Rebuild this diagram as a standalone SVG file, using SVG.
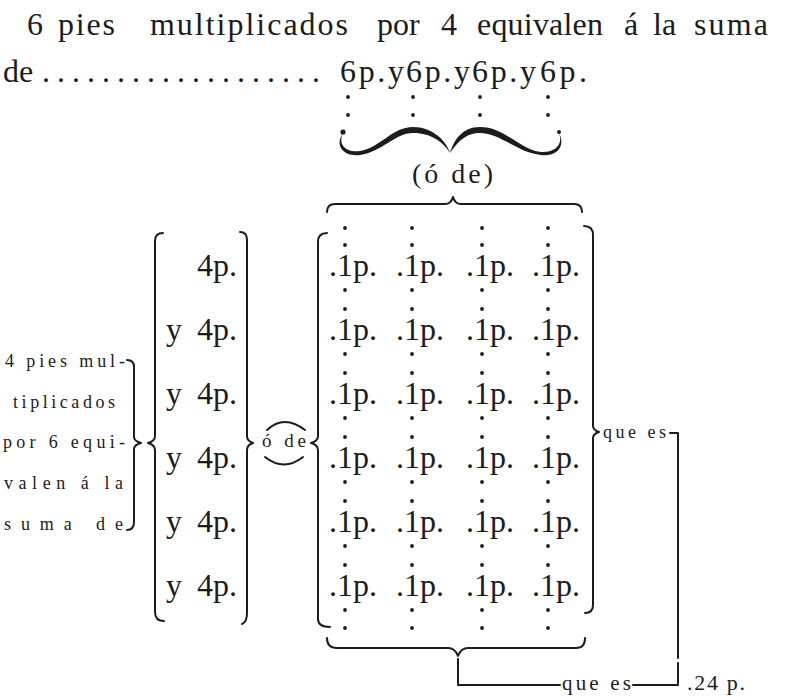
<svg xmlns="http://www.w3.org/2000/svg" width="790" height="699" viewBox="0 0 790 699">
<style>
text{font-family:"Liberation Serif","DejaVu Serif",serif;fill:#1c1c1c}
.big{font-size:32px}
.mid{font-size:28px}
.sm{font-size:18px}
.br{fill:none;stroke:#1c1c1c;stroke-width:2;stroke-linecap:round;stroke-linejoin:round}
.dot{fill:#1c1c1c}
</style>
<defs>
<g id="col">
<circle cx="0" cy="228" r="1.9"/><circle cx="0" cy="245" r="1.9"/>
<circle cx="0" cy="290" r="1.9"/><circle cx="0" cy="309" r="1.9"/>
<circle cx="0" cy="354" r="1.9"/><circle cx="0" cy="373" r="1.9"/>
<circle cx="0" cy="418" r="1.9"/><circle cx="0" cy="437" r="1.9"/>
<circle cx="0" cy="482" r="1.9"/><circle cx="0" cy="501" r="1.9"/>
<circle cx="0" cy="546" r="1.9"/><circle cx="0" cy="565" r="1.9"/>
<circle cx="0" cy="610" r="1.9"/><circle cx="0" cy="628" r="1.9"/>
</g>
</defs>
<rect width="790" height="699" fill="#fff"/>

<g id="title">
<text class="big" y="35"><tspan x="27">6</tspan><tspan x="58" textLength="57">pies</tspan><tspan x="150" textLength="198">multiplicados</tspan><tspan x="377">por</tspan><tspan x="441">4</tspan><tspan x="477" textLength="126">equivalen</tspan><tspan x="624">á</tspan><tspan x="653">la</tspan><tspan x="694" textLength="74">suma</tspan></text>
<text class="big" y="82"><tspan x="3">de</tspan><tspan x="42" letter-spacing="7">...................</tspan></text>
<text class="big" y="82"><tspan x="340" textLength="64">6p.y</tspan><tspan x="406" textLength="64">6p.y</tspan><tspan x="472" textLength="64">6p.y</tspan><tspan x="540" textLength="47">6p.</tspan></text>
</g>

<g id="top-dots" class="dot">
<circle cx="348" cy="97" r="1.9"/><circle cx="348" cy="115" r="1.9"/>
<circle cx="413" cy="97" r="1.9"/><circle cx="413" cy="115" r="1.9"/>
<circle cx="480" cy="97" r="1.9"/><circle cx="480" cy="115" r="1.9"/>
<circle cx="548" cy="97" r="1.9"/><circle cx="548" cy="115" r="1.9"/>
</g>

<g id="curly-brace">
<path fill="#1c1c1c" d="M343,133 C337,146 348,153 360,151 C380,148 392,127 413,127 C432,127 446,140 450,153 C444,143 432,133 413,133 C395,133 382,152 360,155 C344,157 334,146 343,133 Z"/>
<path fill="#1c1c1c" d="M559,133 C564,146 553,153 541,152 C520,150 505,127 480,127 C462,127 454,140 450,153 C457,143 465,133 480,133 C500,133 518,153 541,155 C557,157 566,146 559,133 Z"/>
<circle cx="343" cy="132" r="2.6" fill="#1c1c1c"/>
<circle cx="559" cy="132" r="2" fill="#1c1c1c"/>
</g>

<g id="o-de-top">
<text class="mid" x="412" y="183" textLength="81">(ó de)</text>
</g>

<g id="label">
<text class="sm" x="5" y="367" textLength="120">4 pies mul-</text>
<text class="sm" x="13" y="408" textLength="102">tiplicados</text>
<text class="sm" x="3" y="448" textLength="122">por 6 equi-</text>
<text class="sm" x="4" y="489" textLength="119">valen á la</text>
<text class="sm" x="4" y="530" textLength="119">suma de</text>
</g>

<g id="col-4p">
<text class="big" x="197" y="276">4p.</text>
<text class="big" y="340"><tspan x="166">y</tspan><tspan x="197">4p.</tspan></text>
<text class="big" y="404"><tspan x="166">y</tspan><tspan x="197">4p.</tspan></text>
<text class="big" y="468"><tspan x="166">y</tspan><tspan x="197">4p.</tspan></text>
<text class="big" y="532"><tspan x="166">y</tspan><tspan x="197">4p.</tspan></text>
<text class="big" y="596"><tspan x="166">y</tspan><tspan x="197">4p.</tspan></text>
</g>

<g id="o-de-mid">
<text x="262" y="447" font-size="19" textLength="44">ó de</text>
<path class="br" stroke-width="1.6" d="M267,430 Q284,414 305,430"/>
<path class="br" stroke-width="1.6" d="M265,457 Q284,472 303,457"/>
</g>

<g id="matrix">
<g class="big">
<text y="276"><tspan x="329">.1p.</tspan><tspan x="396">.1p.</tspan><tspan x="466">.1p.</tspan><tspan x="532">.1p.</tspan></text>
<text y="340"><tspan x="329">.1p.</tspan><tspan x="396">.1p.</tspan><tspan x="466">.1p.</tspan><tspan x="532">.1p.</tspan></text>
<text y="404"><tspan x="329">.1p.</tspan><tspan x="396">.1p.</tspan><tspan x="466">.1p.</tspan><tspan x="532">.1p.</tspan></text>
<text y="468"><tspan x="329">.1p.</tspan><tspan x="396">.1p.</tspan><tspan x="466">.1p.</tspan><tspan x="532">.1p.</tspan></text>
<text y="532"><tspan x="329">.1p.</tspan><tspan x="396">.1p.</tspan><tspan x="466">.1p.</tspan><tspan x="532">.1p.</tspan></text>
<text y="596"><tspan x="329">.1p.</tspan><tspan x="396">.1p.</tspan><tspan x="466">.1p.</tspan><tspan x="532">.1p.</tspan></text>
</g>
<g class="dot">
<use href="#col" x="345"/><use href="#col" x="412"/><use href="#col" x="482"/><use href="#col" x="548"/>
</g>
</g>

<g id="que-es-right">
<text x="603" y="438" font-size="18" textLength="63">que es</text>
</g>
<g id="que-es-bottom">
<text x="562" y="690" font-size="21" textLength="69">que es</text>
</g>
<g id="result">
<text x="687" y="690" font-size="22" textLength="58">.24 p.</text>
</g>

<g id="connectors">
<path class="br" d="M163,233 Q155,233 155,241 L155,436 Q155,441 148,443 Q155,445 155,450 L155,612 Q155,621 164,621"/>
<path class="br" d="M240,232 Q247,232 247,240 L247,436 Q247,441 253,443 Q247,445 247,450 L247,613 Q247,622 242,624"/>
<path class="br" d="M127,360 Q134,360 134,367 L134,437 Q134,441 141,443 Q134,445 134,449 L134,522 Q134,530 127,530"/>
<path class="br" d="M327,233 Q318,233 318,242 L318,436 Q318,441 311,443 Q318,445 318,450 L318,619 Q318,627 330,627"/>
<path class="br" d="M584,226 Q593,226 593,235 L593,426 Q593,430 599,432 Q593,434 593,438 L593,605 Q593,613 585,613"/>
<path class="br" d="M327,212 Q327,204 335,204 L445,204 Q451,204 453,197 Q455,204 461,204 L574,204 Q582,204 582,212"/>
<path class="br" d="M327,638 Q327,648 337,648 L448,648 Q455,648 458,656 Q461,648 468,648 L576,648 Q585,648 585,638"/>
<path class="br" d="M458,659 L458,685 L560,685"/>
<path class="br" d="M670,433 L678,433 L678,658" stroke-width="2.6"/>
<path class="br" d="M678,663 L678,685 L633,685"/>
</g>
</svg>
